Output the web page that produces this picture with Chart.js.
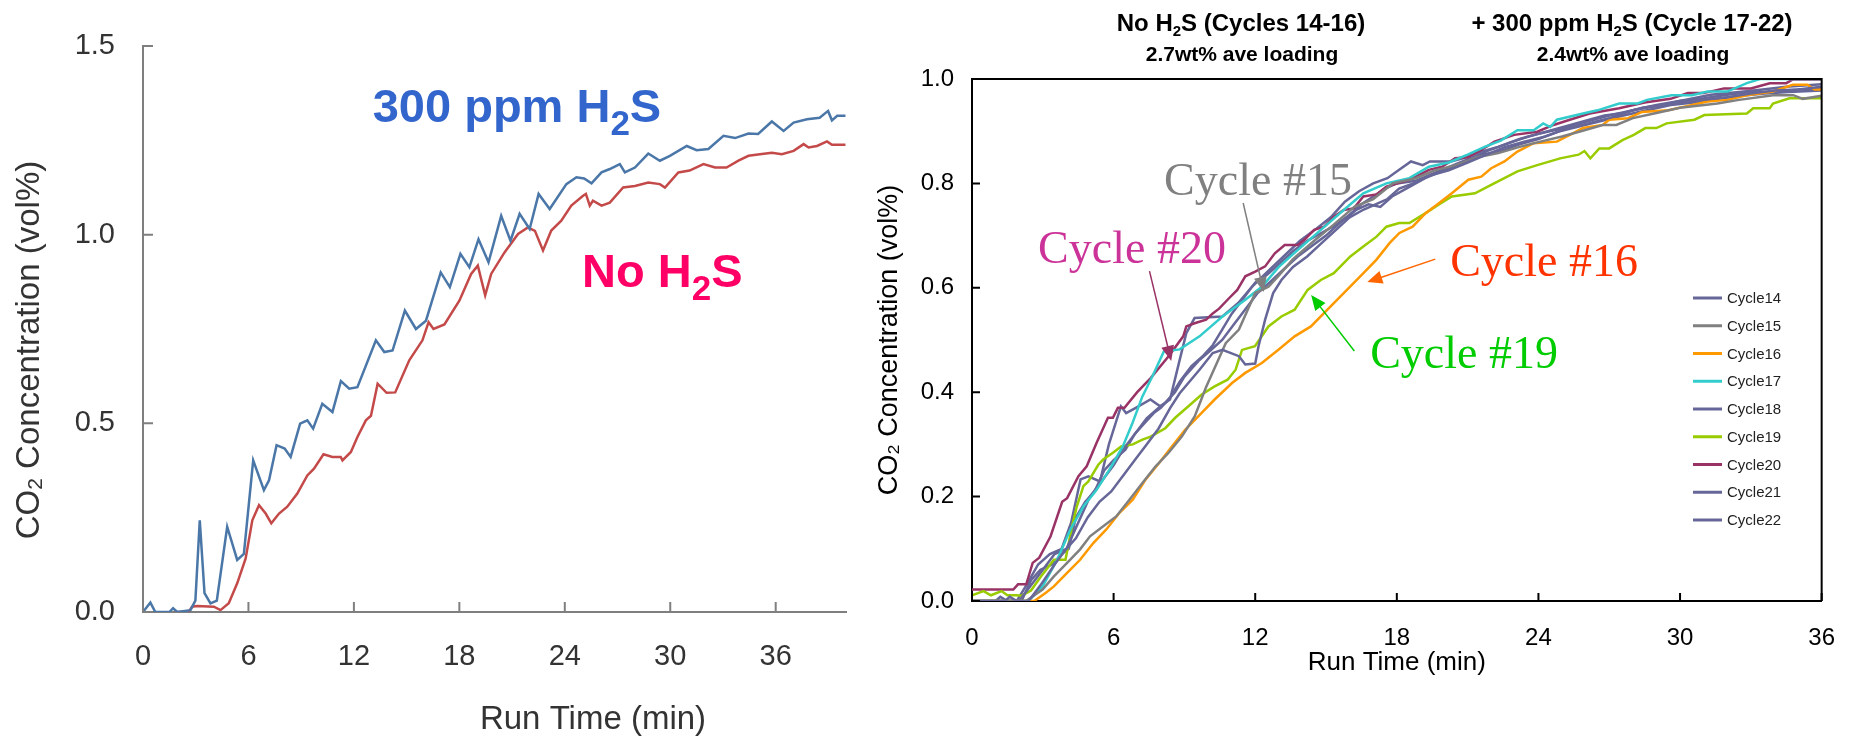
<!DOCTYPE html>
<html>
<head>
<meta charset="utf-8">
<script src="https://cdn.jsdelivr.net/npm/chart.js@4.4.1/dist/chart.umd.min.js"></script>
<style>
  html, body { margin: 0; padding: 0; background: #fff; }
  body { width: 1858px; height: 738px; position: relative; overflow: hidden; }
  #leftChart { position: absolute; left: 0; top: 0; }
  #rightChart { position: absolute; left: 860px; top: 0; }
</style>
</head>
<body>
<canvas id="leftChart" width="860" height="738"></canvas>
<canvas id="rightChart" width="998" height="738"></canvas>
<script>
// ---- left panel: run time (min) vs CO2 (vol%) ----
const h2sRun = [[0,0],[0.42,0.025],[0.7,0],[1.5,0],[1.71,0.01],[1.95,0],[2.7,0.005],[2.98,0.03],[3.23,0.243],[3.5,0.05],[3.84,0.023],[4.2,0.03],[4.79,0.226],[5.36,0.138],[5.74,0.154],[6.27,0.402],[6.88,0.323],[7.17,0.349],[7.6,0.442],[8.06,0.433],[8.4,0.411],[8.94,0.499],[9.35,0.508],[9.68,0.486],[10.2,0.552],[10.78,0.53],[11.26,0.612],[11.73,0.592],[12.2,0.596],[13.25,0.72],[13.73,0.689],[14.2,0.693],[14.9,0.799],[15.53,0.75],[16.1,0.772],[16.94,0.9],[17.46,0.861],[18.06,0.949],[18.57,0.914],[19.09,0.988],[19.66,0.927],[20.38,1.05],[20.91,0.984],[21.43,1.055],[22.0,1.015],[22.51,1.108],[23.14,1.068],[24.09,1.134],[24.66,1.152],[25.1,1.149],[25.52,1.136],[26.09,1.165],[26.56,1.174],[27.13,1.187],[27.42,1.165],[27.99,1.178],[28.75,1.215],[29.41,1.196],[29.98,1.209],[30.94,1.235],[31.5,1.224],[32.17,1.227],[33.03,1.262],[33.69,1.256],[34.45,1.268],[35.0,1.267],[35.78,1.30],[36.45,1.275],[37.02,1.297],[37.78,1.306],[38.5,1.31],[38.98,1.328],[39.2,1.303],[39.5,1.315],[39.97,1.315]];
const noH2sRun = [[1.8,0],[2.6,0],[2.79,0.014],[3.07,0.016],[4.03,0.014],[4.41,0.005],[4.88,0.023],[5.36,0.076],[5.84,0.142],[6.22,0.243],[6.6,0.283],[6.98,0.261],[7.3,0.235],[7.74,0.261],[8.21,0.279],[8.78,0.314],[9.35,0.362],[9.73,0.38],[10.27,0.418],[10.78,0.411],[11.25,0.411],[11.35,0.402],[11.83,0.424],[12.2,0.464],[12.68,0.508],[12.97,0.52],[13.35,0.605],[13.86,0.581],[14.35,0.582],[15.15,0.667],[15.9,0.72],[16.25,0.768],[16.53,0.75],[17.15,0.762],[18.0,0.825],[18.67,0.896],[19.05,0.918],[19.47,0.839],[19.81,0.896],[20.57,0.953],[21.34,1.002],[21.9,1.019],[22.3,1.01],[22.76,0.958],[23.23,1.011],[23.8,1.037],[24.37,1.077],[25.04,1.103],[25.2,1.108],[25.42,1.077],[25.6,1.09],[26.09,1.077],[26.56,1.085],[27.32,1.125],[27.99,1.129],[28.75,1.138],[29.41,1.134],[29.7,1.125],[30.46,1.165],[31.1,1.17],[31.89,1.187],[32.55,1.178],[33.2,1.178],[33.88,1.196],[34.45,1.209],[35.1,1.213],[35.78,1.217],[36.35,1.213],[37.02,1.222],[37.59,1.24],[37.87,1.231],[38.35,1.235],[38.92,1.247],[39.2,1.238],[39.97,1.238]];
const leftYTicks = [0, 0.5, 1.0, 1.5];
const leftXTicks = [0, 6, 12, 18, 24, 30, 36];

// ---- right panel: cycles 14-22 ----
const cycleLabels = ['Cycle14','Cycle15','Cycle16','Cycle17','Cycle18','Cycle19','Cycle20','Cycle21','Cycle22'];
const cycle14 = [[0,0],[1.4,0],[1.6,0.008],[1.9,0],[2.4,0],[2.9,0.03],[3.5,0.07],[4.0,0.1],[4.4,0.12],[4.9,0.16],[5.4,0.19],[5.9,0.21],[6.4,0.24],[6.9,0.27],[7.4,0.3],[7.9,0.33],[8.4,0.37],[8.8,0.398],[9.64,0.443],[10.2,0.475],[10.61,0.481],[11.31,0.469],[11.58,0.453],[12.0,0.455],[12.14,0.488],[12.42,0.539],[12.76,0.59],[13.11,0.615],[13.6,0.64],[14.2,0.66],[14.8,0.685],[15.4,0.71],[16.0,0.735],[16.6,0.75],[17.1,0.76],[17.6,0.77],[18.1,0.79],[18.7,0.8],[19.4,0.815],[20.2,0.825],[21.0,0.84],[21.8,0.855],[22.6,0.87],[23.4,0.88],[24.3,0.89],[25.2,0.905],[26.1,0.915],[27.0,0.925],[28.0,0.94],[29.0,0.948],[30.0,0.955],[31.0,0.96],[32.0,0.965],[33.0,0.972],[34.0,0.978],[35.0,0.98],[36,0.985]];
const cycle15 = [[0,0],[2.29,0],[2.99,0.022],[3.47,0.047],[4.03,0.073],[4.58,0.099],[5.0,0.124],[5.56,0.143],[6.11,0.162],[6.67,0.194],[7.22,0.226],[7.78,0.258],[8.33,0.284],[8.89,0.315],[9.44,0.354],[9.92,0.41],[10.75,0.494],[11.31,0.52],[12.0,0.59],[12.56,0.602],[12.97,0.622],[13.6,0.655],[14.5,0.69],[15.3,0.72],[16.2,0.755],[17.0,0.77],[17.83,0.80],[18.8,0.81],[19.6,0.825],[20.5,0.835],[21.4,0.85],[22.3,0.858],[23.2,0.87],[24.08,0.88],[25.0,0.89],[25.8,0.9],[26.72,0.912],[27.3,0.912],[28.0,0.925],[29.0,0.935],[30.0,0.945],[31.58,0.953],[32.5,0.96],[33.94,0.969],[34.8,0.969],[35.2,0.962],[36,0.968]];
const cycle16 = [[0,0],[2.64,0],[3.13,0.016],[3.47,0.028],[4.03,0.054],[4.58,0.079],[5.14,0.111],[5.69,0.137],[6.25,0.169],[6.81,0.194],[7.36,0.233],[7.92,0.264],[8.47,0.296],[9.03,0.328],[9.72,0.36],[10.28,0.386],[11.03,0.418],[11.58,0.437],[12.28,0.456],[12.97,0.481],[13.67,0.507],[14.36,0.526],[15.06,0.558],[15.75,0.59],[16.45,0.622],[17.14,0.654],[17.7,0.686],[18.11,0.705],[18.67,0.717],[19.22,0.743],[19.78,0.762],[20.33,0.781],[21.03,0.807],[21.58,0.813],[22.0,0.829],[22.56,0.842],[23.11,0.861],[23.8,0.877],[24.78,0.88],[25.33,0.893],[25.89,0.906],[26.72,0.912],[27.0,0.922],[27.8,0.925],[28.39,0.937],[29.5,0.94],[30.47,0.95],[31.17,0.957],[32.0,0.96],[32.83,0.969],[33.94,0.976],[34.78,0.989],[35.4,0.989],[35.7,0.98],[36,0.98]];
const cycle17 = [[0,0],[2.3,0],[2.5,0.005],[2.99,0.028],[3.61,0.079],[4.17,0.137],[4.72,0.181],[5.28,0.213],[5.83,0.252],[6.39,0.296],[6.8,0.341],[7.22,0.392],[7.64,0.43],[8.13,0.478],[8.8,0.482],[9.64,0.507],[10.61,0.545],[11.58,0.577],[12.28,0.602],[13.0,0.64],[13.64,0.666],[14.78,0.711],[15.75,0.749],[16.58,0.781],[17.56,0.8],[18.53,0.81],[19.36,0.832],[20.2,0.84],[21.0,0.855],[21.72,0.87],[22.4,0.882],[23.11,0.902],[23.8,0.902],[24.2,0.915],[24.5,0.908],[24.78,0.922],[25.89,0.934],[26.5,0.94],[27.42,0.953],[28.2,0.953],[28.6,0.96],[29.64,0.969],[30.5,0.969],[31.17,0.976],[32.0,0.976],[32.83,0.992],[33.39,1.0],[36,1.0]];
const cycle18 = [[0,0],[2.0,0],[2.5,0.03],[3.0,0.06],[3.5,0.09],[4.0,0.1],[4.3,0.13],[4.7,0.17],[5.0,0.2],[5.5,0.23],[6.0,0.26],[6.4,0.29],[6.9,0.32],[7.4,0.35],[7.9,0.37],[8.2,0.38],[8.6,0.4],[9.0,0.43],[9.6,0.46],[10.1,0.48],[10.6,0.5],[11.1,0.53],[11.6,0.56],[12.1,0.59],[12.6,0.61],[13.2,0.635],[13.8,0.66],[14.4,0.68],[15.0,0.7],[15.6,0.725],[16.3,0.75],[16.8,0.76],[17.3,0.755],[17.8,0.775],[18.4,0.79],[19.2,0.81],[20.0,0.825],[20.8,0.84],[21.6,0.855],[22.4,0.862],[23.2,0.875],[24.0,0.885],[24.9,0.9],[25.8,0.91],[26.7,0.92],[27.6,0.93],[28.6,0.94],[29.6,0.95],[30.6,0.955],[31.6,0.962],[32.6,0.968],[33.6,0.972],[34.6,0.975],[36,0.978]];
const cycle19 = [[0,0.011],[0.49,0.019],[0.8,0.011],[1.25,0.019],[1.5,0.011],[1.88,0.011],[2.1,0.01],[2.5,0.02],[2.92,0.047],[3.47,0.079],[3.96,0.079],[4.24,0.143],[4.44,0.181],[4.72,0.22],[4.93,0.229],[5.35,0.261],[5.56,0.271],[5.97,0.284],[6.32,0.296],[6.81,0.30],[7.22,0.309],[7.57,0.315],[8.19,0.331],[8.61,0.351],[9.17,0.373],[9.72,0.395],[10.28,0.411],[10.83,0.424],[11.17,0.443],[11.44,0.481],[11.99,0.488],[12.56,0.526],[13.11,0.545],[13.67,0.558],[14.22,0.596],[14.78,0.615],[15.33,0.628],[16.03,0.66],[16.58,0.679],[17.14,0.698],[17.56,0.717],[18.1,0.724],[18.53,0.724],[19.22,0.743],[19.8,0.76],[20.33,0.775],[21.31,0.781],[22.0,0.797],[23.11,0.823],[23.95,0.835],[24.92,0.848],[25.7,0.855],[25.95,0.862],[26.2,0.848],[26.58,0.867],[27.0,0.867],[27.56,0.883],[28.04,0.893],[28.53,0.906],[29.0,0.906],[29.43,0.915],[30.61,0.922],[31.03,0.931],[32.83,0.934],[33.1,0.944],[33.8,0.944],[33.94,0.953],[34.64,0.963],[36,0.963]];
const cycle20 = [[0,0.022],[1.75,0.022],[1.95,0.032],[2.3,0.032],[2.57,0.073],[2.85,0.083],[3.33,0.124],[3.82,0.19],[4.03,0.197],[4.51,0.239],[4.86,0.258],[5.28,0.303],[5.76,0.351],[5.97,0.351],[6.18,0.37],[6.46,0.37],[7.0,0.40],[7.57,0.427],[8.33,0.469],[8.95,0.507],[9.08,0.526],[9.43,0.532],[9.92,0.539],[10.2,0.551],[10.47,0.56],[10.89,0.58],[11.24,0.596],[11.58,0.622],[12.0,0.631],[12.42,0.641],[12.83,0.666],[13.25,0.682],[13.8,0.682],[14.08,0.692],[14.5,0.711],[14.92,0.717],[15.33,0.736],[15.75,0.749],[16.17,0.752],[16.58,0.775],[17.14,0.779],[17.56,0.794],[18.53,0.807],[19.36,0.826],[19.92,0.832],[20.47,0.848],[21.0,0.85],[21.58,0.864],[22.14,0.88],[22.97,0.893],[23.95,0.899],[24.64,0.912],[25.33,0.922],[26.17,0.934],[27.42,0.944],[28.5,0.955],[29.6,0.962],[30.33,0.973],[31.0,0.973],[31.86,0.982],[33.0,0.982],[33.8,0.992],[34.5,0.992],[34.78,0.999],[36,0.999]];
const cycle21 = [[0,0],[1.9,0],[2.3,0.03],[2.8,0.07],[3.3,0.09],[3.8,0.1],[4.2,0.15],[4.6,0.233],[4.93,0.239],[5.42,0.229],[5.8,0.3],[6.31,0.373],[6.53,0.36],[6.94,0.37],[7.56,0.386],[7.97,0.373],[8.39,0.386],[8.8,0.462],[9.08,0.513],[9.43,0.542],[10.61,0.545],[11.28,0.571],[11.86,0.602],[12.5,0.63],[13.2,0.66],[13.9,0.69],[14.5,0.71],[15.2,0.735],[15.8,0.765],[16.4,0.785],[17.0,0.8],[17.6,0.81],[18.1,0.826],[18.6,0.842],[19.1,0.835],[19.4,0.842],[20.3,0.842],[20.8,0.848],[21.5,0.86],[22.3,0.87],[23.2,0.885],[24.0,0.895],[25.0,0.905],[26.0,0.918],[27.0,0.93],[28.0,0.94],[29.0,0.95],[30.2,0.96],[31.3,0.97],[32.5,0.975],[33.5,0.98],[34.5,0.985],[36,0.99]];
const cycle22 = [[0,0],[1.0,0],[1.2,0.008],[1.5,0],[2.1,0],[2.5,0.04],[2.9,0.06],[3.4,0.07],[3.8,0.09],[4.1,0.1],[4.4,0.16],[4.8,0.19],[5.2,0.21],[5.6,0.25],[6.0,0.27],[6.5,0.29],[6.9,0.32],[7.3,0.34],[7.7,0.36],[8.0,0.37],[8.4,0.39],[8.8,0.42],[9.3,0.45],[9.8,0.47],[10.2,0.49],[10.6,0.52],[11.0,0.55],[11.5,0.58],[12.0,0.61],[12.5,0.625],[13.0,0.645],[13.6,0.67],[14.2,0.69],[14.8,0.705],[15.4,0.72],[16.0,0.74],[16.5,0.76],[17.0,0.775],[17.5,0.79],[18.0,0.8],[18.8,0.805],[19.6,0.82],[20.4,0.835],[21.2,0.85],[22.0,0.865],[22.8,0.878],[23.6,0.89],[24.4,0.9],[25.2,0.91],[26.0,0.92],[26.8,0.93],[27.6,0.935],[28.4,0.945],[29.2,0.95],[30.0,0.958],[31.0,0.963],[32.0,0.97],[33.0,0.975],[34.0,0.975],[35.0,0.98],[36,0.982]];
const cycleSeries = [cycle14, cycle15, cycle16, cycle17, cycle18, cycle19, cycle20, cycle21, cycle22];
const cycleColors = ['#666699','#808080','#ff9900','#33cccc','#666699','#99cc00','#993366','#666699','#666699'];
const rightYTicks = [0, 0.2, 0.4, 0.6, 0.8, 1.0];
const rightXTicks = [0, 6, 12, 18, 24, 30, 36];

const SANS = '"Liberation Sans", Arial, sans-serif';
const SERIF = '"Liberation Serif", "Times New Roman", serif';
Chart.defaults.font.family = SANS;

const toXY = arr => arr.map(p => ({ x: p[0], y: p[1] }));

// split "H_2S" into normal / subscript runs
function splitSub(s) {
  const out = [];
  const re = /_(\d)/g;
  let last = 0, m;
  while ((m = re.exec(s))) {
    if (m.index > last) out.push([s.slice(last, m.index), false]);
    out.push([m[1], true]);
    last = re.lastIndex;
  }
  if (last < s.length) out.push([s.slice(last), false]);
  return out;
}

function drawRich(ctx, str, x, y, f) {
  const parts = splitSub(str);
  const w8 = f.weight || 'normal';
  const main = w8 + ' ' + f.size + 'px ' + f.family;
  const sub = w8 + ' ' + Math.round(f.size * (f.subScale || 0.7)) + 'px ' + f.family;
  let w = 0;
  parts.forEach(p => { ctx.font = p[1] ? sub : main; w += ctx.measureText(p[0]).width; });
  ctx.save();
  ctx.translate(x, y);
  if (f.rotate) ctx.rotate(f.rotate);
  ctx.fillStyle = f.color;
  ctx.textAlign = 'left';
  ctx.textBaseline = f.baseline || 'alphabetic';
  let cx = f.align === 'center' ? -w / 2 : 0;
  parts.forEach(p => {
    ctx.font = p[1] ? sub : main;
    ctx.fillText(p[0], cx, p[1] ? f.size * (f.subDrop || 0.25) : 0);
    cx += ctx.measureText(p[0]).width;
  });
  ctx.restore();
}

function drawArrow(ctx, x1, y1, x2, y2, color) {
  const a = Math.atan2(y2 - y1, x2 - x1), L = 15, W = 6.5;
  ctx.save();
  ctx.strokeStyle = color; ctx.fillStyle = color; ctx.lineWidth = 1.5;
  ctx.beginPath();
  ctx.moveTo(x1, y1);
  ctx.lineTo(x2 - L * 0.8 * Math.cos(a), y2 - L * 0.8 * Math.sin(a));
  ctx.stroke();
  ctx.beginPath();
  ctx.moveTo(x2, y2);
  ctx.lineTo(x2 - L * Math.cos(a) + W * Math.sin(a), y2 - L * Math.sin(a) - W * Math.cos(a));
  ctx.lineTo(x2 - L * Math.cos(a) - W * Math.sin(a), y2 - L * Math.sin(a) + W * Math.cos(a));
  ctx.closePath();
  ctx.fill();
  ctx.restore();
}

// tick marks pointing into the plot
const inwardTicks = {
  id: 'inwardTicks',
  afterDatasetsDraw(chart, args, o) {
    const { ctx, chartArea: a, scales: { x, y } } = chart;
    ctx.save();
    ctx.strokeStyle = o.color;
    ctx.lineWidth = o.width;
    ctx.beginPath();
    x.ticks.forEach(t => {
      const px = x.getPixelForValue(t.value);
      ctx.moveTo(px, a.bottom); ctx.lineTo(px, a.bottom - o.length);
    });
    y.ticks.forEach(t => {
      const py = y.getPixelForValue(t.value);
      ctx.moveTo(a.left, py); ctx.lineTo(a.left + o.length, py);
    });
    ctx.stroke();
    if (o.box) {
      ctx.lineWidth = o.boxWidth;
      ctx.strokeStyle = o.boxColor;
      ctx.beginPath();
      ctx.moveTo(a.left, a.top); ctx.lineTo(a.right, a.top); ctx.lineTo(a.right, a.bottom);
      ctx.stroke();
    }
    ctx.restore();
  }
};

// free text, arrows and headers
const notes = {
  id: 'notes',
  afterDatasetsDraw(chart, args, o) {
    const { ctx, scales: { x, y } } = chart;
    (o.arrows || []).forEach(n => {
      drawArrow(ctx, x.getPixelForValue(n.from[0]), y.getPixelForValue(n.from[1]),
        x.getPixelForValue(n.to[0]), y.getPixelForValue(n.to[1]), n.color);
    });
    (o.texts || []).forEach(n => {
      drawRich(ctx, n.text, x.getPixelForValue(n.at[0]), y.getPixelForValue(n.at[1]), n.font);
    });
    (o.fixed || []).forEach(n => drawRich(ctx, n.text, n.x, n.y, n.font));
  }
};

// legend inside the plot, built from the datasets
const cycleLegend = {
  id: 'cycleLegend',
  afterDraw(chart, args, o) {
    const ctx = chart.ctx;
    ctx.save();
    chart.data.datasets.forEach((ds, i) => {
      const yy = o.y + i * o.step;
      ctx.strokeStyle = ds.borderColor;
      ctx.lineWidth = 3;
      ctx.beginPath();
      ctx.moveTo(o.x, yy); ctx.lineTo(o.x + o.lineLen, yy);
      ctx.stroke();
      ctx.fillStyle = '#222';
      ctx.font = '15px ' + SANS;
      ctx.textBaseline = 'middle';
      ctx.textAlign = 'left';
      ctx.fillText(ds.label, o.x + o.lineLen + 5, yy + 1);
    });
    ctx.restore();
  }
};

const fixedTicks = vals => scale => { scale.ticks = vals.map(v => ({ value: v })); };

// ---------- left chart ----------
new Chart(document.getElementById('leftChart'), {
  type: 'line',
  data: {
    datasets: [
      { label: '300 ppm H2S', data: toXY(h2sRun), borderColor: '#4a77a8', borderWidth: 2.5, pointRadius: 0, tension: 0 },
      { label: 'No H2S', data: toXY(noH2sRun), borderColor: '#c44a4a', borderWidth: 2.5, pointRadius: 0, tension: 0 }
    ]
  },
  options: {
    responsive: false,
    animation: false,
    layout: { padding: { top: 46, right: 14, left: 0, bottom: 0 } },
    plugins: {
      legend: { display: false },
      tooltip: { enabled: false },
      inwardTicks: { color: '#7f7f7f', width: 2, length: 10 },
      notes: {
        texts: [
          { text: '300 ppm H_2S', at: [13.07, 1.2994], font: { size: 47, family: SANS, weight: 'bold', color: '#3366cc', subScale: 0.75, subDrop: 0.28 } },
          { text: 'No H_2S', at: [24.98, 0.8613], font: { size: 47, family: SANS, weight: 'bold', color: '#ff0066', subScale: 0.75, subDrop: 0.28 } }
        ],
        fixed: [
          { text: 'CO_2 Concentration (vol%)', x: 30, y: 350, font: { size: 33, family: SANS, color: '#333', align: 'center', baseline: 'middle', rotate: -Math.PI / 2, subScale: 0.65, subDrop: 0.2 } },
          { text: 'Run Time (min)', x: 593, y: 720, font: { size: 33, family: SANS, color: '#333', align: 'center', baseline: 'middle' } }
        ]
      }
    },
    scales: {
      x: {
        type: 'linear', min: 0, max: 40,
        afterBuildTicks: fixedTicks(leftXTicks),
        afterFit: s => { s.height = 126; },
        ticks: { padding: 28, color: '#333', font: { size: 29 }, maxRotation: 0, autoSkip: false },
        grid: { display: true, drawOnChartArea: false, drawTicks: false },
        border: { display: true, color: '#7f7f7f', width: 2 }
      },
      y: {
        min: 0, max: 1.5,
        afterBuildTicks: fixedTicks(leftYTicks),
        afterFit: s => { s.width = 143; },
        ticks: { padding: 28, color: '#333', font: { size: 29 }, callback: v => v.toFixed(1) },
        grid: { display: true, drawOnChartArea: false, drawTicks: false },
        border: { display: true, color: '#7f7f7f', width: 2 }
      }
    }
  },
  plugins: [inwardTicks, notes]
});

// ---------- right chart ----------
const serif46 = c => ({ size: 46, family: SERIF, color: c });
new Chart(document.getElementById('rightChart'), {
  type: 'line',
  data: {
    datasets: cycleSeries.map((s, i) => ({
      label: cycleLabels[i], data: toXY(s), borderColor: cycleColors[i],
      borderWidth: 2.5, pointRadius: 0, tension: 0
    }))
  },
  options: {
    responsive: false,
    animation: false,
    layout: { padding: { top: 79, right: 24, left: 0, bottom: 0 } },
    plugins: {
      legend: { display: false },
      tooltip: { enabled: false },
      inwardTicks: { color: '#000', width: 2, length: 8, box: true, boxColor: '#000', boxWidth: 2 },
      cycleLegend: { x: 833, y: 298, step: 27.75, lineLen: 29 },
      notes: {
        arrows: [
          { from: [7.52, 0.632], to: [8.44, 0.46], color: '#993366' },
          { from: [11.49, 0.7625], to: [12.36, 0.592], color: '#808080' },
          { from: [19.63, 0.655], to: [16.75, 0.611], color: '#ff6600' },
          { from: [16.2, 0.479], to: [14.37, 0.586], color: '#00cc00' }
        ],
        texts: [
          { text: 'Cycle #20', at: [2.8, 0.6475], font: serif46('#cc3399') },
          { text: 'Cycle #15', at: [8.14, 0.778], font: serif46('#808080') },
          { text: 'Cycle #16', at: [20.26, 0.6226], font: serif46('#ff3300') },
          { text: 'Cycle #19', at: [16.87, 0.4464], font: serif46('#00cc00') }
        ],
        fixed: [
          { text: 'No H_2S (Cycles 14-16)', x: 381, y: 31, font: { size: 24, family: SANS, weight: 'bold', color: '#000', align: 'center', subScale: 0.62, subDrop: 0.22 } },
          { text: '2.7wt% ave loading', x: 382, y: 61, font: { size: 21, family: SANS, weight: 'bold', color: '#000', align: 'center' } },
          { text: '+ 300 ppm H_2S (Cycle 17-22)', x: 772, y: 31, font: { size: 24, family: SANS, weight: 'bold', color: '#000', align: 'center', subScale: 0.62, subDrop: 0.22 } },
          { text: '2.4wt% ave loading', x: 773, y: 61, font: { size: 21, family: SANS, weight: 'bold', color: '#000', align: 'center' } }
        ]
      }
    },
    scales: {
      x: {
        type: 'linear', min: 0, max: 36,
        afterBuildTicks: fixedTicks(rightXTicks),
        afterFit: s => { s.height = 137; },
        ticks: { padding: 23, color: '#000', font: { size: 24 }, maxRotation: 0, autoSkip: false },
        grid: { display: true, drawOnChartArea: false, drawTicks: false },
        border: { display: true, color: '#000', width: 2 },
        title: { display: true, text: 'Run Time (min)', color: '#000', font: { size: 26 }, padding: { top: 0, bottom: 60 } }
      },
      y: {
        min: 0, max: 1,
        afterBuildTicks: fixedTicks(rightYTicks),
        afterFit: s => { s.width = 112; },
        ticks: { padding: 18, color: '#000', font: { size: 24 }, callback: v => v.toFixed(1) },
        grid: { display: true, drawOnChartArea: false, drawTicks: false },
        border: { display: true, color: '#000', width: 2 },
        title: { display: true, text: 'CO₂ Concentration (vol%)', color: '#000', font: { size: 27 }, padding: { top: 13, bottom: 0 } }
      }
    }
  },
  plugins: [inwardTicks, notes, cycleLegend]
});
</script>
</body>
</html>
